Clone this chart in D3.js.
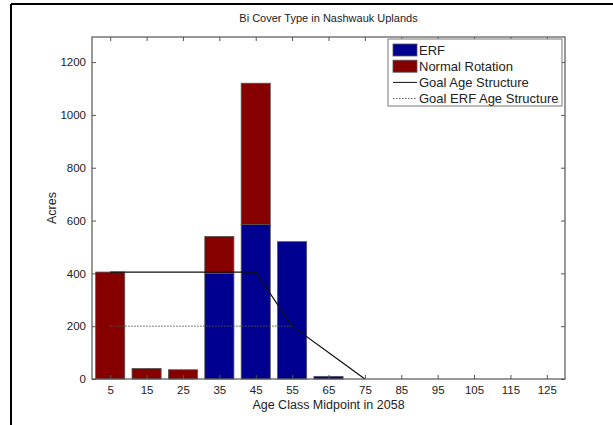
<!DOCTYPE html>
<html>
<head>
<meta charset="utf-8">
<script src="https://cdn.jsdelivr.net/npm/d3@7"></script>
<style>
  html, body { margin: 0; padding: 0; background: #fff; }
  svg { display: block; font-family: "Liberation Sans", Arial, Helvetica, sans-serif; }
</style>
</head>
<body>
<svg id="chart" width="613" height="425"></svg>
<script>
// Age class midpoints (years) and acreage per class
const ageClasses = [5, 15, 25, 35, 45, 55, 65, 75, 85, 95, 105, 115, 125];
const erfAcres    = [0, 0, 0, 400, 585, 520, 10, 0, 0, 0, 0, 0, 0];
const normalAcres = [405, 40, 35, 140, 535, 0, 0, 0, 0, 0, 0, 0, 0];
// Target age structures
const goalAges  = [5, 15, 25, 35, 45, 55, 65, 75];
const goalAcres = [405, 405, 405, 405, 405, 200, 100, 0];
const goalErfAges  = [5, 15, 25, 35, 45, 55];
const goalErfAcres = [200, 200, 200, 200, 200, 200];
const yTicks = [0, 200, 400, 600, 800, 1000, 1200];

const colors = { erf: "#000090", normal: "#860000" };

const svg = d3.select("#chart");

// Figure frame (top and left rules)
svg.append("line").attr("x1", 11).attr("x2", 613).attr("y1", 4).attr("y2", 4)
  .attr("stroke", "#000").attr("stroke-width", 2);
svg.append("line").attr("x1", 11).attr("x2", 11).attr("y1", 4).attr("y2", 425)
  .attr("stroke", "#000").attr("stroke-width", 2);

const plot = { left: 92, right: 565, top: 37, bottom: 379 };

const x = d3.scaleLinear().domain([0, 130]).range([plot.left, plot.right]);
const y = d3.scaleLinear().domain([0, 1295]).range([plot.bottom, plot.top]);
const barW = (x(10) - x(0)) * 0.8;

svg.append("text")
  .attr("x", (plot.left + plot.right) / 2).attr("y", 22)
  .attr("text-anchor", "middle").attr("font-size", 11).attr("fill", "#222")
  .text("Bi Cover Type in Nashwauk Uplands");

// Stacked bars
const rows = ageClasses.map((a, i) => ({ age: a, erf: erfAcres[i], normal: normalAcres[i] }));
const g = svg.append("g");
rows.forEach(d => {
  if (d.erf > 0) {
    g.append("rect")
      .attr("x", x(d.age) - barW / 2).attr("width", barW)
      .attr("y", y(d.erf)).attr("height", y(0) - y(d.erf))
      .attr("fill", colors.erf).attr("stroke", "#555").attr("stroke-width", 0.8);
  }
  if (d.normal > 0) {
    g.append("rect")
      .attr("x", x(d.age) - barW / 2).attr("width", barW)
      .attr("y", y(d.erf + d.normal)).attr("height", y(d.erf) - y(d.erf + d.normal))
      .attr("fill", colors.normal).attr("stroke", "#555").attr("stroke-width", 0.8);
  }
});

// Goal lines
const line = d3.line().x(d => x(d[0])).y(d => y(d[1]));
svg.append("path")
  .datum(goalErfAges.map((a, i) => [a, goalErfAcres[i]]))
  .attr("d", line).attr("fill", "none").attr("stroke", "#555")
  .attr("stroke-width", 1).attr("stroke-dasharray", "1.5,1.5");
svg.append("path")
  .datum(goalAges.map((a, i) => [a, goalAcres[i]]))
  .attr("d", line).attr("fill", "none").attr("stroke", "#111").attr("stroke-width", 1.2);

// Axes box with inward ticks on all sides
const axisColor = "#555";
const xAxis = d3.axisBottom(x).tickValues(ageClasses).tickSizeInner(-4).tickSizeOuter(0).tickPadding(7);
const yAxis = d3.axisLeft(y).tickValues(yTicks).tickSizeInner(-4).tickSizeOuter(0).tickPadding(6)
  .tickFormat(d3.format("d"));
const xTop = d3.axisTop(x).tickValues(ageClasses).tickSizeInner(-4).tickSizeOuter(0).tickFormat("");
const yRight = d3.axisRight(y).tickValues(yTicks).tickSizeInner(-4).tickSizeOuter(0).tickFormat("");

function styleAxis(sel) {
  sel.select(".domain").remove();
  sel.selectAll("line").attr("stroke", axisColor);
  sel.selectAll("text").attr("fill", "#222").attr("font-size", 11.5)
    .attr("font-family", "Liberation Sans, Arial, sans-serif");
}
svg.append("g").attr("transform", `translate(0,${plot.bottom})`).call(xAxis).call(styleAxis);
svg.append("g").attr("transform", `translate(${plot.left},0)`).call(yAxis).call(styleAxis);
svg.append("g").attr("transform", `translate(0,${plot.top})`).call(xTop).call(styleAxis);
svg.append("g").attr("transform", `translate(${plot.right},0)`).call(yRight).call(styleAxis);

svg.append("rect")
  .attr("x", plot.left).attr("y", plot.top)
  .attr("width", plot.right - plot.left).attr("height", plot.bottom - plot.top)
  .attr("fill", "none").attr("stroke", axisColor).attr("stroke-width", 1.2);

// Axis titles
svg.append("text")
  .attr("x", (plot.left + plot.right) / 2).attr("y", 409)
  .attr("text-anchor", "middle").attr("font-size", 12.5).attr("fill", "#222")
  .text("Age Class Midpoint in 2058");
svg.append("text")
  .attr("transform", `translate(56,${(plot.top + plot.bottom) / 2}) rotate(-90)`)
  .attr("text-anchor", "middle").attr("font-size", 12.5).attr("fill", "#222")
  .text("Acres");

// Legend
const lg = svg.append("g").attr("transform", "translate(388,39)");
lg.append("rect").attr("width", 174).attr("height", 67)
  .attr("fill", "#fff").attr("stroke", "#777").attr("stroke-width", 1);
const items = [
  { label: "ERF", type: "box", color: colors.erf },
  { label: "Normal Rotation", type: "box", color: colors.normal },
  { label: "Goal Age Structure", type: "line", dash: null },
  { label: "Goal ERF Age Structure", type: "line", dash: "1.5,1.5" }
];
items.forEach((it, i) => {
  const cy = 11 + i * 16.2;
  if (it.type === "box") {
    lg.append("rect").attr("x", 5).attr("y", cy - 6).attr("width", 24).attr("height", 12)
      .attr("fill", it.color).attr("stroke", "#555").attr("stroke-width", 0.8);
  } else {
    lg.append("line").attr("x1", 5).attr("x2", 29).attr("y1", cy).attr("y2", cy)
      .attr("stroke", it.dash ? "#555" : "#111").attr("stroke-width", 1)
      .attr("stroke-dasharray", it.dash);
  }
  lg.append("text").attr("x", 31).attr("y", cy + 4.5).attr("font-size", 13).attr("fill", "#222")
    .text(it.label);
});
</script>
</body>
</html>
